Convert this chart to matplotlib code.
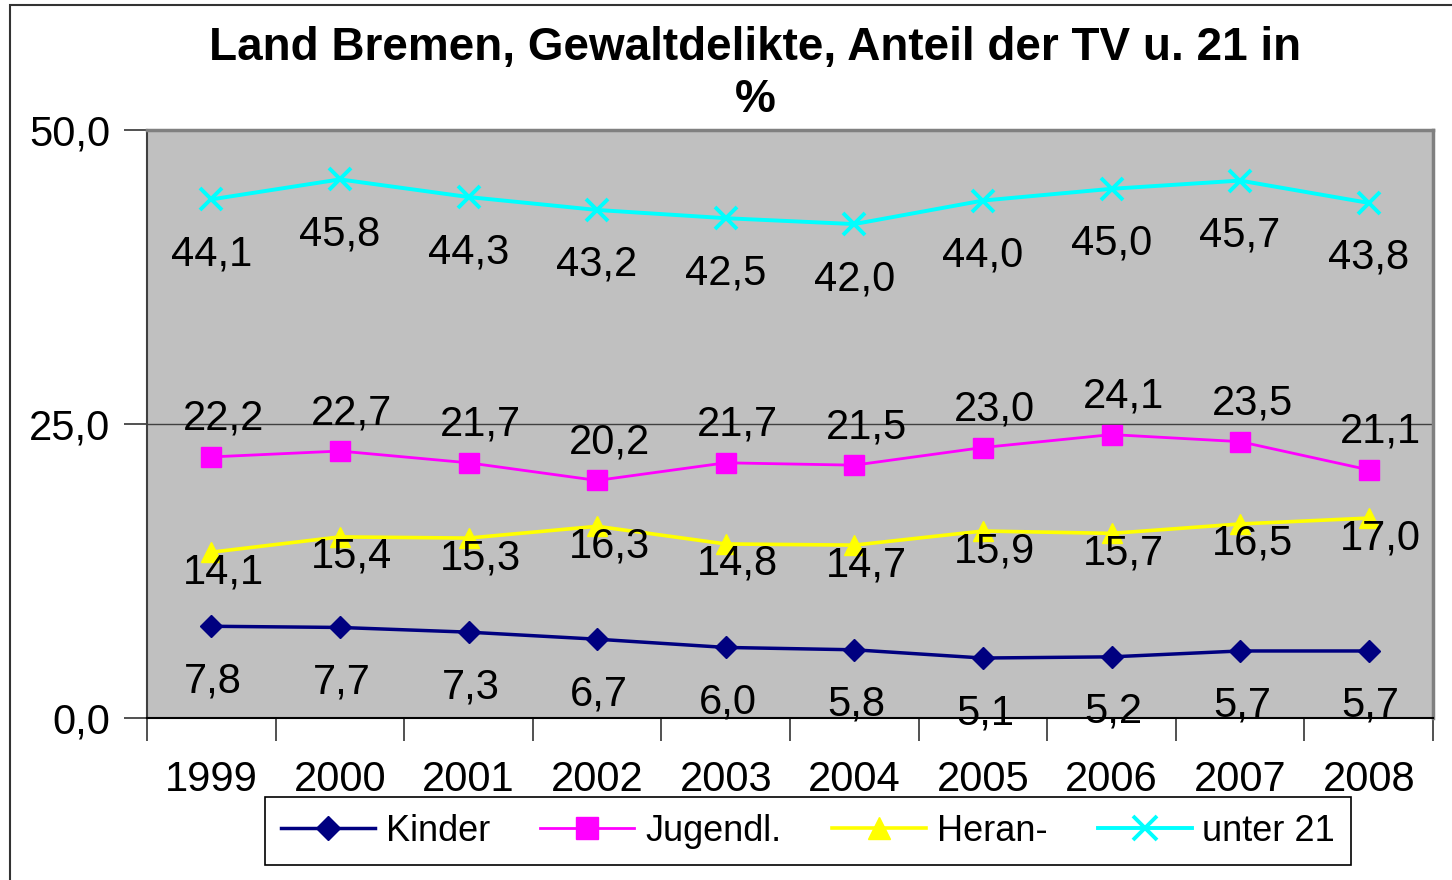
import matplotlib
matplotlib.use("Agg")
import matplotlib.pyplot as plt
from matplotlib.patches import Rectangle
from matplotlib.ticker import FixedLocator

plt.rcParams['font.family'] = ['Liberation Sans', 'DejaVu Sans']

# Werte (Anteil der Tatverdächtigen in %)
jahre = ['1999', '2000', '2001', '2002', '2003', '2004', '2005', '2006', '2007', '2008']
kinder = [7.8, 7.7, 7.3, 6.7, 6.0, 5.8, 5.1, 5.2, 5.7, 5.7]
jugendl = [22.2, 22.7, 21.7, 20.2, 21.7, 21.5, 23.0, 24.1, 23.5, 21.1]
heran = [14.1, 15.4, 15.3, 16.3, 14.8, 14.7, 15.9, 15.7, 16.5, 17.0]
unter21 = [44.1, 45.8, 44.3, 43.2, 42.5, 42.0, 44.0, 45.0, 45.7, 43.8]

fig = plt.figure(figsize=(14.52, 8.8), dpi=100)
ax = fig.add_axes([147 / 1452, 162 / 880, 1286 / 1452, 588 / 880])
ax.set_facecolor('#C0C0C0')

x = list(range(len(jahre)))

# Reihen: (Name, Werte, Farbe, Marker, Markergröße, Linienbreite, Label-Versatz in Pixeln)
reihen = [
    ('Kinder', kinder, '#000080', 'D', 11, 2.5, (2, -55)),
    ('Jugendl.', jugendl, '#FF00FF', 's', 14, 2.0, (12, 38)),
    ('Heran-', heran, '#FFFF00', '^', 15, 2.6, (12, -20)),
    ('unter 21', unter21, '#00FFFF', 'x', 16, 2.8, (0, -55)),
]

for name, werte, farbe, marker, ms, lw, (dx, dy) in reihen:
    ax.plot(x, werte, color=farbe, lw=lw, marker=marker, markersize=ms,
            markerfacecolor=farbe, markeredgecolor=farbe,
            markeredgewidth=2.8 if marker == 'x' else 1, label=name,
            clip_on=False, zorder=3)
    for xi, v in zip(x, werte):
        ax.annotate(f'{v:.1f}'.replace('.', ','), (xi, v), xytext=(dx, dy),
                    textcoords='offset pixels', ha='center', va='center',
                    fontsize=30, color='black', annotation_clip=False, zorder=4)

ax.set_xlim(-0.5, len(jahre) - 0.5)
ax.set_ylim(0, 50)

# y-Achse
ax.set_yticks([0, 25, 50])
ax.set_yticklabels(['0,0', '25,0', '50,0'])
ax.tick_params(axis='y', direction='out', length=12 / 0.72, width=1.2,
               color='#333333', pad=10, labelsize=30)
ax.axhline(25, color='#404040', lw=1, zorder=1)

# x-Achse: Beschriftung mittig, Striche zwischen den Jahren
ax.set_xticks(x)
ax.set_xticklabels(jahre)
ax.xaxis.set_minor_locator(FixedLocator([i - 0.5 for i in range(len(jahre) + 1)]))
ax.tick_params(axis='x', which='major', length=0, pad=30, labelsize=30)
ax.tick_params(axis='x', which='minor', direction='out', length=12 / 0.72,
               width=1.2, color='#333333')

for side in ('top', 'right'):
    ax.spines[side].set_color('#808080')
    ax.spines[side].set_linewidth(2.5)
ax.spines['left'].set_color('#404040')
ax.spines['left'].set_linewidth(1.5)
ax.spines['bottom'].set_color('#000000')
ax.spines['bottom'].set_linewidth(1.5)

fig.text(755 / 1452, 1 - 74 / 880,
         'Land Bremen, Gewaltdelikte, Anteil der TV u. 21 in\n%',
         ha='center', va='center', fontsize=33, fontweight='bold',
         linespacing=1.25)

leg = fig.legend(loc='center', bbox_to_anchor=(808 / 1452, 1 - 831 / 880),
                 ncol=4, fontsize=26, frameon=True, fancybox=False,
                 edgecolor='black', framealpha=1, handlelength=2.6,
                 handletextpad=0.3, columnspacing=1.4, borderpad=0.45,
                 markerscale=1.1)
leg.get_frame().set_linewidth(1.2)

# Rahmen um das gesamte Diagramm
fig.patches.append(Rectangle((10 / 1452, -0.02), 1.1, 875 / 880 + 0.02,
                             transform=fig.transFigure, fill=False,
                             edgecolor='#333333', lw=1.5))

fig.savefig('out.png', dpi=100)
